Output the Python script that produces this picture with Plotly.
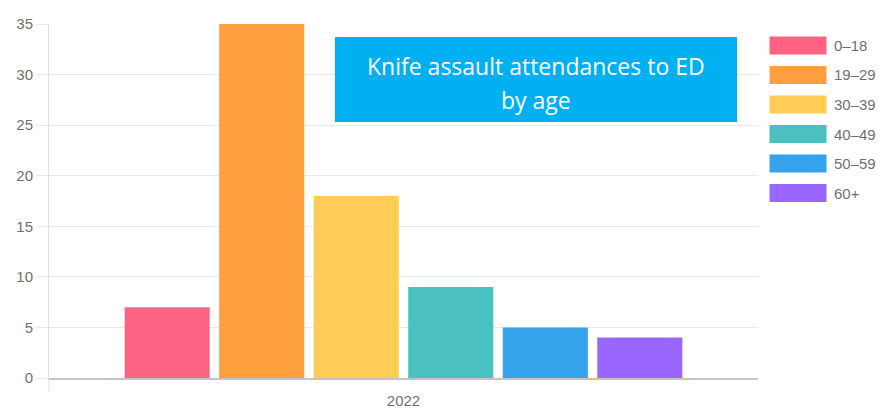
import plotly.graph_objects as go

categories = ["2022"]
age_groups = ["0–18", "19–29", "30–39", "40–49", "50–59", "60+"]
values = [7, 35, 18, 9, 5, 4]
colors = ["rgb(255,99,132)", "rgb(255,159,64)", "rgb(255,205,86)",
          "rgb(75,192,192)", "rgb(54,162,235)", "rgb(153,102,255)"]
y_ticks = [0, 5, 10, 15, 20, 25, 30, 35]
title_lines = ["Knife assault attendances to ED", "by age"]

W, H = 884, 411
L, R, T, B = 49, 758, 24, 378

def px(x):
    return (x - L) / (R - L)

def py(y):
    return (B - y) / (B - T)

fig = go.Figure()
for g, v, c in zip(age_groups, values, colors):
    fig.add_trace(go.Bar(x=categories, y=[v], name=g, marker=dict(color=c, line=dict(width=0)),
                         showlegend=False))

FONT = "Liberation Sans, Arial"
TXT = "#707070"
fig.update_layout(
    width=W, height=H,
    margin=dict(l=L, r=W - R, t=T, b=H - B, autoexpand=False),
    paper_bgcolor="white", plot_bgcolor="white",
    barmode="group", bargap=0.2, bargroupgap=0.1,
    font=dict(family=FONT, size=15, color=TXT),
    xaxis=dict(showgrid=False, showline=True, linecolor="#c4c4c4", linewidth=2,
               ticks="", tickfont=dict(size=15, color=TXT), ticklabelstandoff=8,
               automargin=False),
    yaxis=dict(range=[0, 35], tickvals=y_ticks, showgrid=True, gridcolor="#e8e8e8",
               gridwidth=1, zeroline=False, showline=True, linecolor="#e0e0e0", linewidth=1,
               ticks="outside", ticklen=12, tickcolor="#e8e8e8", automargin=False,
               tickfont=dict(size=15, color=TXT)),
)

# vertical tick below axis at left boundary
fig.add_shape(type="line", xref="paper", yref="paper", x0=0, x1=0, y0=0, y1=py(392),
              line=dict(color="#e0e0e0", width=1))

# custom legend
for i, (g, c) in enumerate(zip(age_groups, colors)):
    yc = 45.5 + i * 29.5
    fig.add_shape(type="rect", xref="paper", yref="paper",
                  x0=px(769), x1=px(827), y0=py(yc + 9.5), y1=py(yc - 9.5),
                  fillcolor=c, line=dict(color="white", width=1))
    fig.add_annotation(xref="paper", yref="paper", x=px(832), y=py(yc), text=g,
                       showarrow=False, xanchor="left", yanchor="middle",
                       font=dict(size=15, color=TXT, family=FONT))

# title box
fig.add_shape(type="rect", xref="paper", yref="paper",
              x0=px(335), x1=px(737), y0=py(122), y1=py(37),
              fillcolor="#00B0F0", line=dict(color="#00B0F0", width=0), layer="above")
for i, line in enumerate(title_lines):
    fig.add_annotation(xref="paper", yref="paper", x=px(536), y=py(66 + 34 * i), text=line,
                       showarrow=False, xanchor="center", yanchor="middle",
                       font=dict(size=23, color="white", family="Open Sans"))

fig.write_html("out.html", config={"displayModeBar": False},
               post_script="document.body.style.margin='0';")
